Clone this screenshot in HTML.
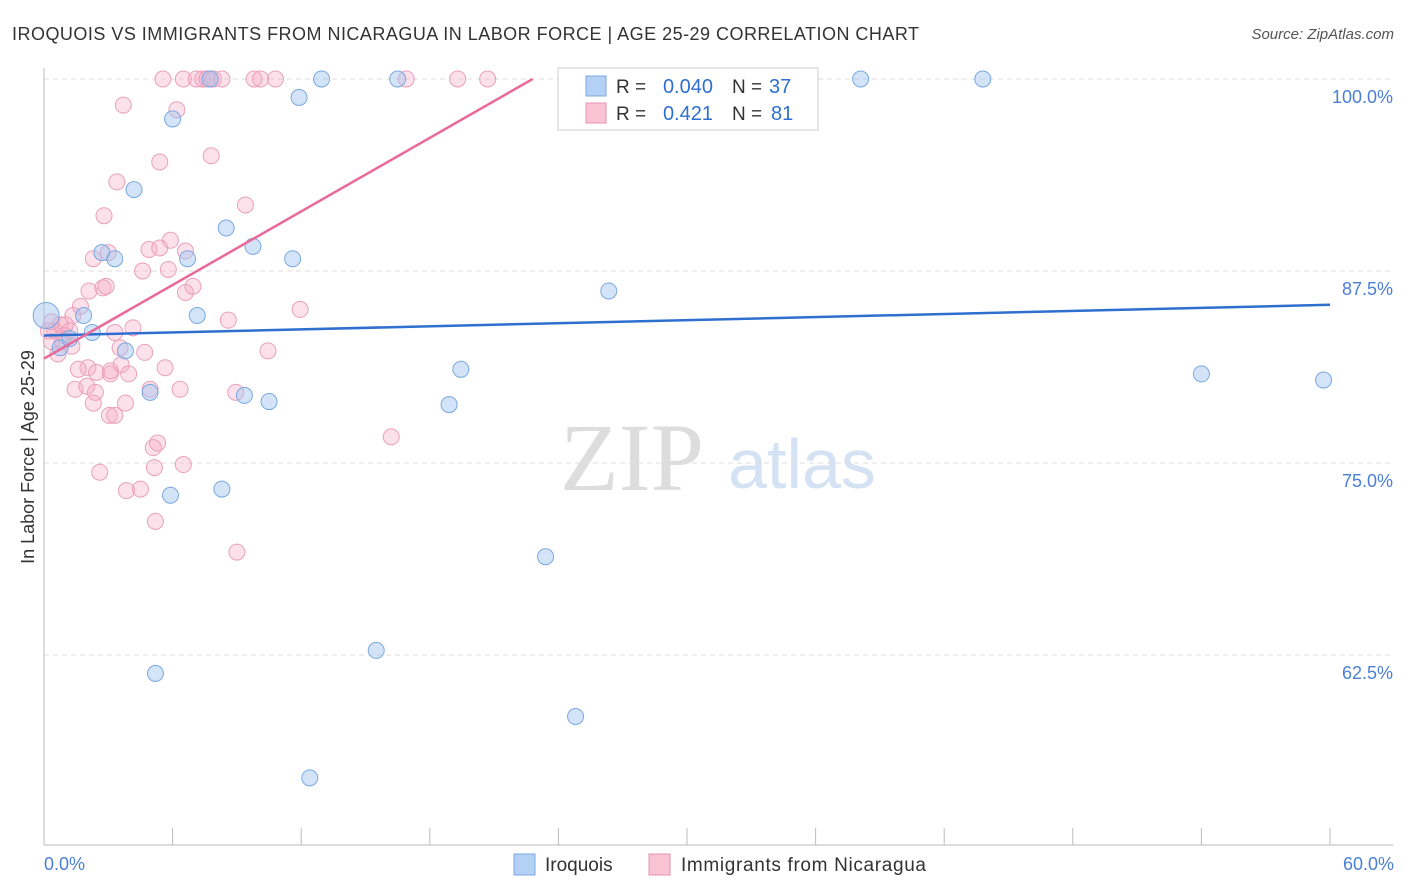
<!DOCTYPE html>
<html><head><meta charset="utf-8"><style>
body{margin:0;background:#fff;font-family:"Liberation Sans",sans-serif;}
svg{display:block}
</style></head><body>
<svg id="chart" width="1406" height="892" xmlns="http://www.w3.org/2000/svg">
<text x="12" y="40" font-size="18" fill="#333" textLength="907" lengthAdjust="spacing">IROQUOIS VS IMMIGRANTS FROM NICARAGUA IN LABOR FORCE | AGE 25-29 CORRELATION CHART</text>
<text x="1394" y="39" font-size="15" fill="#555" font-style="italic" text-anchor="end">Source: ZipAtlas.com</text>
<text x="632" y="490" font-size="96" fill="#ddd" font-family="Liberation Serif,serif" text-anchor="middle">ZIP</text>
<text x="802" y="488" font-size="70" fill="#d4e2f4" text-anchor="middle">atlas</text>
<g id="grid"></g>
<g id="axes"></g>
<g id="pts"></g>
<g id="trends"></g>
<text transform="translate(34,457) rotate(-90)" font-size="18" fill="#333" text-anchor="middle">In Labor Force | Age 25-29</text>
<text x="44" y="870" font-size="18" fill="#4a7fd4">0.0%</text>
<text x="1394" y="870" font-size="18" fill="#4a7fd4" text-anchor="end">60.0%</text>
<g>
<rect x="558" y="68" width="260" height="62" fill="#fff" stroke="#ccc"/>
<rect x="586" y="76" width="20" height="20" fill="#b4d0f4" stroke="#7aa8e0"/>
<rect x="586" y="103" width="20" height="20" fill="#f8c4d4" stroke="#e890b0"/>
<text x="616" y="93" font-size="19" fill="#333">R =</text>
<text x="713" y="93" font-size="20" fill="#2f6fd0" text-anchor="end">0.040</text>
<text x="732" y="93" font-size="19" fill="#333">N =</text>
<text x="769" y="93" font-size="20" fill="#2f6fd0">37</text>
<text x="616" y="120" font-size="19" fill="#333">R =</text>
<text x="713" y="120" font-size="20" fill="#2f6fd0" text-anchor="end">0.421</text>
<text x="732" y="120" font-size="19" fill="#333">N =</text>
<text x="771" y="120" font-size="20" fill="#2f6fd0">81</text>
</g>
<g>
<rect x="514" y="854" width="21" height="21" fill="#b4d0f4" stroke="#7aa8e0"/>
<text x="545" y="871" font-size="19" fill="#333">Iroquois</text>
<rect x="649" y="854" width="21" height="21" fill="#f8c4d4" stroke="#e890b0"/>
<text x="681" y="871" font-size="19" fill="#333" textLength="245">Immigrants from Nicaragua</text>
</g>
</svg>
<script>
const yTicks=[100,87.5,75,62.5];
const yTickLabels=["100.0%","87.5%","75.0%","62.5%"];
const blueX=[0.1,0.75,1.85,2.25,1.2,2.7,3.3,4.2,4.95,3.8,5.2,5.9,6.0,6.7,7.15,7.75,8.3,8.5,9.35,9.75,10.5,11.6,11.9,12.4,12.95,15.5,16.5,18.9,19.45,23.4,24.8,26.35,38.1,43.8,54.0,59.7,25.9];
const blueY=[84.6,82.5,84.6,83.5,83.1,88.7,88.3,92.8,79.6,82.3,61.3,72.9,97.4,88.3,84.6,100,73.3,90.3,79.4,89.1,79.0,88.3,98.8,54.5,100,62.8,100,78.8,81.1,68.9,58.5,86.2,100,100,80.8,80.4,100];
const pinkX=[5.55,6.5,7.1,7.4,7.6,7.9,8.3,9.8,10.1,10.8,16.9,19.3,20.7,3.7,6.2,7.8,5.4,3.4,9.4,2.8,5.9,4.9,6.6,2.3,3.0,4.6,5.8,2.1,2.75,2.9,6.6,6.95,1.7,1.35,11.95,8.6,0.75,0.5,0.35,0.95,1.2,0.2,3.3,4.15,0.65,1.3,3.55,4.7,10.45,2.05,1.6,2.45,3.6,3.95,5.65,3.1,1.45,2.0,2.4,6.35,8.95,2.3,3.8,3.05,3.3,5.1,5.3,5.15,6.5,16.2,2.6,3.85,4.5,5.2,9.0,0.35,0.85,3.1,4.95,5.4,1.0];
const pinkY=[100,100,100,100,100,100,100,100,100,100,100,100,100,98.3,98.0,95.0,94.6,93.3,91.8,91.1,89.5,88.9,88.8,88.3,88.7,87.5,87.6,86.2,86.4,86.5,86.1,86.5,85.2,84.6,85.0,84.3,84.0,83.6,82.9,83.3,83.6,83.6,83.5,83.8,82.1,82.6,82.5,82.2,82.3,81.2,81.1,80.9,81.4,80.8,81.2,80.8,79.8,80.0,79.6,79.8,79.6,78.9,78.9,78.1,78.1,76.0,76.3,74.7,74.9,76.7,74.4,73.2,73.3,71.2,69.2,84.2,82.9,81.0,79.8,89.0,84.0];
const X=v=>44+v/60*1286, Y=v=>79+(100-v)/12.5*192;
const NS="http://www.w3.org/2000/svg";
function mk(parent,tag,attrs){const e=document.createElementNS(NS,tag);for(const k in attrs)e.setAttribute(k,attrs[k]);document.getElementById(parent).appendChild(e);return e;}
yTicks.forEach((t,i)=>{
 const l=mk('grid','line',{x1:44,x2:1393,y1:Y(t),y2:Y(t),stroke:'#ddd','stroke-dasharray':'5,4'});
 
 
 const tx=mk('grid','text',{x:1393,y:Y(t)+24,'font-size':18,fill:'#4a7fd4','text-anchor':'end'});
 tx.textContent=yTickLabels[i];
 
 
});
let a=mk('axes','line',{x1:44,x2:44,y1:68,y2:845,stroke:'#bbb'});


a=mk('axes','line',{x1:44,x2:1393,y1:845,y2:845,stroke:'#bbb'});


for(let i=0;i<=10;i++){const t=mk('axes','line',{x1:X(i*6),x2:X(i*6),y1:828,y2:845,stroke:'#bbb'});
 
 }
pinkX.forEach((v,i)=>{const c=mk('pts','circle',{cx:X(v),cy:Y(pinkY[i]),r:8,fill:'rgba(245,170,195,0.35)',stroke:'#eaa0bb','stroke-width':1});
 
 });
blueX.forEach((v,i)=>{const c=mk('pts','circle',{cx:X(v),cy:Y(blueY[i]),r:i==0?13:8,fill:'rgba(160,195,240,0.45)',stroke:'#7aa8e0','stroke-width':1});
 
 });
let tl=mk('trends','line',{x1:X(0),y1:Y(83.3),x2:X(60),y2:Y(85.3),stroke:'#2f6fd0','stroke-width':2.5});


tl=mk('trends','line',{x1:X(0),y1:Y(81.8),x2:X(22.8),y2:Y(100),stroke:'#e8699a','stroke-width':2.5});


</script>
</body></html>
